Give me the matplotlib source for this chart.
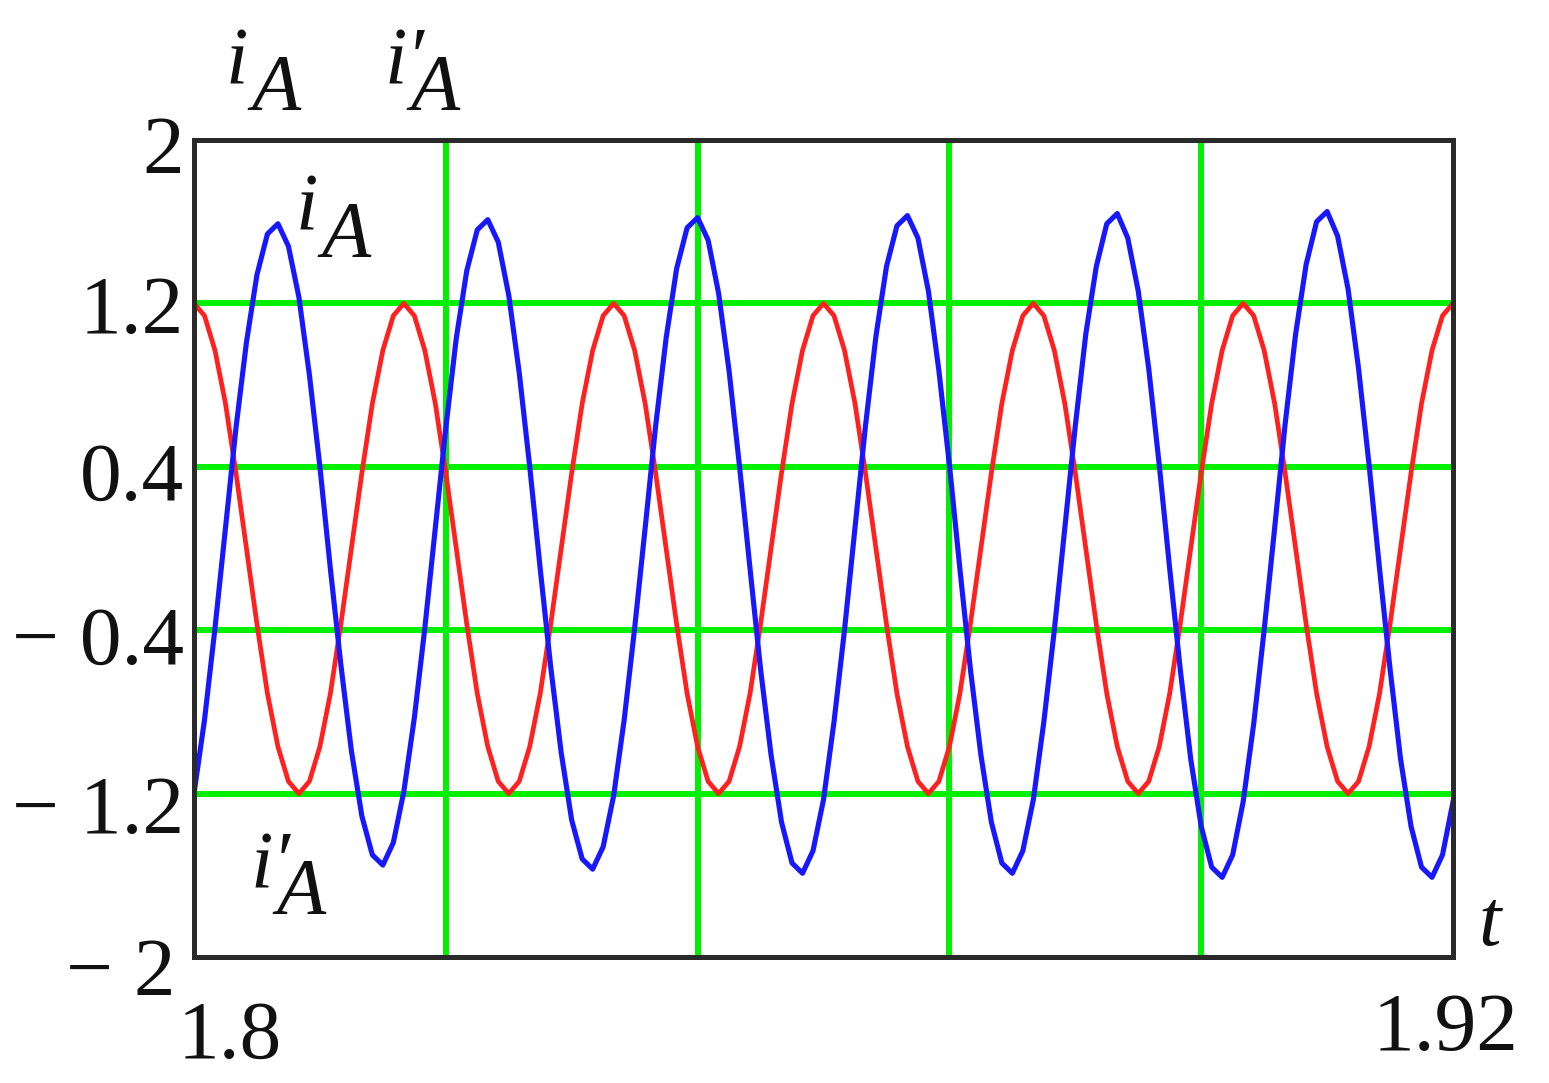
import numpy as np
import matplotlib
matplotlib.use("Agg")
import matplotlib.pyplot as plt

# time axis: 1.8 .. 1.92 s, samples every 1 ms
t_start = 1.8
t_end = 1.92
n_samples = 121

# i'_A (red)
i_prime_A = [
    1.20, 1.14, 0.97, 0.71, 0.37, 0.00, -0.37, -0.71, -0.97, -1.14,
    -1.20, -1.14, -0.97, -0.71, -0.37, 0.00, 0.37, 0.71, 0.97, 1.14,
    1.20, 1.14, 0.97, 0.71, 0.37, 0.00, -0.37, -0.71, -0.97, -1.14,
    -1.20, -1.14, -0.97, -0.71, -0.37, 0.00, 0.37, 0.71, 0.97, 1.14,
    1.20, 1.14, 0.97, 0.71, 0.37, 0.00, -0.37, -0.71, -0.97, -1.14,
    -1.20, -1.14, -0.97, -0.71, -0.37, 0.00, 0.37, 0.71, 0.97, 1.14,
    1.20, 1.14, 0.97, 0.71, 0.37, 0.00, -0.37, -0.71, -0.97, -1.14,
    -1.20, -1.14, -0.97, -0.71, -0.37, 0.00, 0.37, 0.71, 0.97, 1.14,
    1.20, 1.14, 0.97, 0.71, 0.37, 0.00, -0.37, -0.71, -0.97, -1.14,
    -1.20, -1.14, -0.97, -0.71, -0.37, 0.00, 0.37, 0.71, 0.97, 1.14,
    1.20, 1.14, 0.97, 0.71, 0.37, 0.00, -0.37, -0.71, -0.97, -1.14,
    -1.20, -1.14, -0.97, -0.71, -0.37, 0.00, 0.37, 0.71, 0.97, 1.14,
    1.20,
]

# i_A (blue)
i_A = [
    -1.20, -0.84, -0.39, 0.10, 0.59, 1.01, 1.34, 1.54, 1.59, 1.48,
    1.23, 0.85, 0.40, -0.10, -0.57, -0.99, -1.31, -1.50, -1.55, -1.44,
    -1.19, -0.83, -0.39, 0.10, 0.59, 1.03, 1.36, 1.56, 1.61, 1.50,
    1.24, 0.86, 0.40, -0.10, -0.58, -1.00, -1.33, -1.52, -1.57, -1.46,
    -1.21, -0.84, -0.39, 0.10, 0.60, 1.03, 1.37, 1.57, 1.62, 1.51,
    1.25, 0.87, 0.40, -0.10, -0.59, -1.01, -1.34, -1.54, -1.59, -1.48,
    -1.23, -0.85, -0.40, 0.10, 0.60, 1.04, 1.38, 1.58, 1.63, 1.52,
    1.26, 0.87, 0.41, -0.10, -0.59, -1.01, -1.34, -1.54, -1.59, -1.48,
    -1.23, -0.85, -0.40, 0.10, 0.60, 1.05, 1.38, 1.59, 1.64, 1.52,
    1.26, 0.88, 0.41, -0.10, -0.59, -1.03, -1.36, -1.56, -1.61, -1.50,
    -1.24, -0.86, -0.40, 0.10, 0.61, 1.05, 1.39, 1.60, 1.65, 1.53,
    1.27, 0.88, 0.41, -0.10, -0.59, -1.03, -1.36, -1.56, -1.61, -1.50,
    -1.24,
]

x_grid = [1.824, 1.848, 1.872, 1.896]
y_grid = [-1.2, -0.4, 0.4, 1.2]
y_labels = ["2", "1.2", "0.4", "\u2212 0.4", "\u2212 1.2", "\u2212 2"]

t = np.linspace(t_start, t_end, n_samples)

W, H = 1549, 1083
fig = plt.figure(figsize=(W / 100, H / 100), dpi=100)
ax = fig.add_axes([194 / W, 1 - 957 / H, (1453 - 194) / W, (957 - 140) / H])


def px(x, y):
    return x / W, 1 - y / H


green = "#00f000"
for xv in x_grid:
    ax.axvline(xv, color=green, lw=4.3, zorder=1)
for yv in y_grid:
    ax.axhline(yv, color=green, lw=4.3, zorder=1)

ax.plot(t, i_prime_A, color="#ff2020", lw=3.4, zorder=3)
ax.plot(t, i_A, color="#1818ff", lw=3.7, zorder=4)

ax.set_xlim(t_start, t_end)
ax.set_ylim(-2, 2)
ax.set_xticks([])
ax.set_yticks([])
for s in ax.spines.values():
    s.set_linewidth(3.6)
    s.set_color("#2a2a2a")
    s.set_zorder(5)

num = dict(family=["Liberation Serif", "DejaVu Serif"], fontsize=60, color="#111111")
ita = dict(family=["Liberation Serif", "DejaVu Serif"], style="italic", fontsize=58, color="#111111")

# y-axis labels (right edge, baseline)
ylab_pos = [(184, 173), (184, 333), (184, 500), (184, 664), (184, 833), (176, 995)]
for lab, (x, y) in zip(y_labels, ylab_pos):
    fig.text(*px(x, y), lab, ha="right", va="baseline", **num)

fig.text(*px(230, 1058), "1.8", ha="center", va="baseline", **num)
fig.text(*px(1446, 1050), "1.92", ha="center", va="baseline", **num)


def label(x, y, prime=False):
    # i (higher) followed by a large, lowered A, Mathcad style
    fig.text(*px(x, y), "i\u2032" if prime else "i", ha="left", va="baseline", **ita)
    fig.text(*px(x + 25, y + 27), "A", ha="left", va="baseline", **ita)


label(226, 83)
label(385, 83, prime=True)
label(296, 230)
label(251, 887, prime=True)
fig.text(*px(1478, 945), "t", ha="left", va="baseline", **ita)

fig.savefig("out.png", dpi=100)
